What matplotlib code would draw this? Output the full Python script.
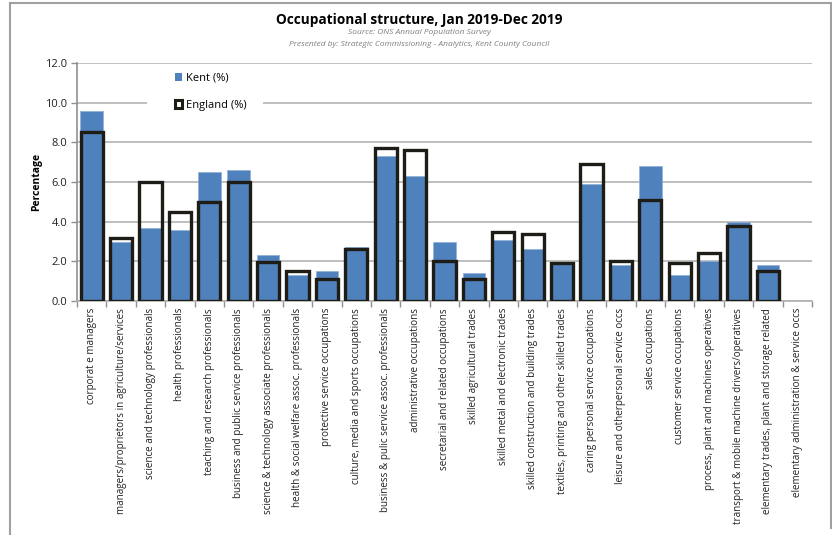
import matplotlib
matplotlib.use("Agg")
import matplotlib.pyplot as plt
from matplotlib.patches import Patch, Rectangle
from matplotlib.lines import Line2D
import numpy as np

plt.rcParams['font.family'] = ['Open Sans', 'DejaVu Sans']

categories = [
    "corporat e managers",
    "managers/proprietors in agriculture/services",
    "science and technology professionals",
    "health professionals",
    "teaching and research professionals",
    "business and public service professionals",
    "science & technology associate professionals",
    "health & social welfare assoc. professionals",
    "protective service occupations",
    "culture, media and sports occupations",
    "business & pulic service assoc. professionals",
    "administrative occupations",
    "secretarial and related occupations",
    "skilled agricultural trades",
    "skilled metal and electronic trades",
    "skilled construction and building trades",
    "textiles, printing and other skilled trades",
    "caring personal service occupations",
    "leisure and otherpersonal service occs",
    "sales occupations",
    "customer service occupations",
    "process, plant and machines operatives",
    "transport & mobile machine drivers/operatives",
    "elementary trades, plant and storage related",
    "elementary administration & service occs",
]
kent = [9.6, 3.0, 3.7, 3.6, 6.5, 6.6, 2.3, 1.3, 1.5, 2.7, 7.3, 6.3, 3.0, 1.4,
        3.1, 2.6, 1.9, 5.9, 1.8, 6.8, 1.3, 2.0, 4.0, 1.8, np.nan]
england = [8.5, 3.2, 6.0, 4.5, 5.0, 6.0, 1.95, 1.5, 1.1, 2.6, 7.7, 7.6, 2.0, 1.1,
           3.5, 3.4, 1.9, 6.9, 2.0, 5.1, 1.9, 2.4, 3.8, 1.5, np.nan]
yticks = [0.0, 2.0, 4.0, 6.0, 8.0, 10.0, 12.0]

W, H = 832, 535
fig = plt.figure(figsize=(W / 100, H / 100), dpi=100)
ax = fig.add_axes([77 / W, 1 - 301 / H, (812 - 77) / W, (301 - 63) / H])

x = np.arange(len(categories))
kent_col = '#4F81BD'
eng_col = '#1E1C16'
ax.bar(x, kent, width=0.77, color=kent_col, edgecolor='#8FB0D8', linewidth=0.5, zorder=2)
ax.bar(x, england, width=0.76, facecolor='none', edgecolor=eng_col, linewidth=2.4, zorder=3)

ax.set_xlim(-0.5, len(categories) - 0.5)
ax.set_ylim(0, 12)
ax.set_yticks(yticks)
ax.set_yticklabels([f"{v:.1f}" for v in yticks], fontsize=8, color='#222222')
ax.yaxis.grid(True, color='#b4b4b4', linewidth=1.2, zorder=0)
ax.set_axisbelow(True)

ax.set_xticks(x)
ax.set_xticklabels(categories, rotation=90, fontsize=7.1, color='#222222', va='top', ha='center')
ax.set_xticks(np.arange(-0.5, len(categories), 1), minor=True)
ax.tick_params(axis='x', which='major', length=0, pad=5)
ax.tick_params(axis='x', which='minor', length=4, color='#909090', width=1)
ax.tick_params(axis='y', length=4, color='#909090', width=1, pad=3)

for s in ['top', 'right']:
    ax.spines[s].set_visible(False)
ax.spines['left'].set_color('#909090')
ax.spines['bottom'].set_color('#b0b0b0')
ax.spines['left'].set_linewidth(1.2)
ax.spines['bottom'].set_linewidth(1.2)

fig.text(37 / W, 1 - 182 / H, 'Percentage', rotation=90, ha='center', va='center',
         fontsize=7.5, fontweight='bold')

# white area behind legend (breaks the 10.0 gridline)
ax.add_patch(Rectangle((147 / W, 1 - 112 / H), (263 - 147) / W, (112 - 68) / H,
                       transform=fig.transFigure, facecolor='white', edgecolor='none',
                       zorder=1, clip_on=False))

handles = [
    Patch(facecolor=kent_col, edgecolor='none'),
    Patch(facecolor='white', edgecolor=eng_col, linewidth=2.2),
]
leg = ax.legend(handles, ['Kent (%)', 'England (%)'], loc='upper left',
                bbox_to_anchor=(168 / W, 1 - 66 / H), bbox_transform=fig.transFigure,
                frameon=False, fontsize=8, handlelength=0.7, handleheight=0.7,
                handletextpad=0.3, labelspacing=1.45, borderpad=0.6,
                borderaxespad=0)
leg.set_zorder(5)

cx = 419 / W
fig.text(cx, 1 - 20 / H, 'Occupational structure, Jan 2019-Dec 2019',
         ha='center', va='center', fontsize=9.8, fontweight='bold')
fig.text(cx, 1 - 33 / H, 'Source: ONS Annual Population Survey',
         ha='center', va='center', fontsize=6.0, style='italic', color='#7f7f7f')
fig.text(cx, 1 - 45 / H, 'Presented by: Strategic Commissioning - Analytics, Kent County Council',
         ha='center', va='center', fontsize=6.0, style='italic', color='#7f7f7f')

# outer frame
fc = '#a0a0a0'
fig.add_artist(Line2D([10 / W, 831 / W], [1 - 3 / H, 1 - 3 / H], color=fc, lw=1.5, transform=fig.transFigure))
fig.add_artist(Line2D([10 / W, 10 / W], [1 - 3 / H, 0], color=fc, lw=1.5, transform=fig.transFigure))
fig.add_artist(Line2D([831 / W, 831 / W], [1 - 3 / H, 1 - 528 / H], color=fc, lw=1.5, transform=fig.transFigure))

fig.savefig('out.png', dpi=100, facecolor='white')
